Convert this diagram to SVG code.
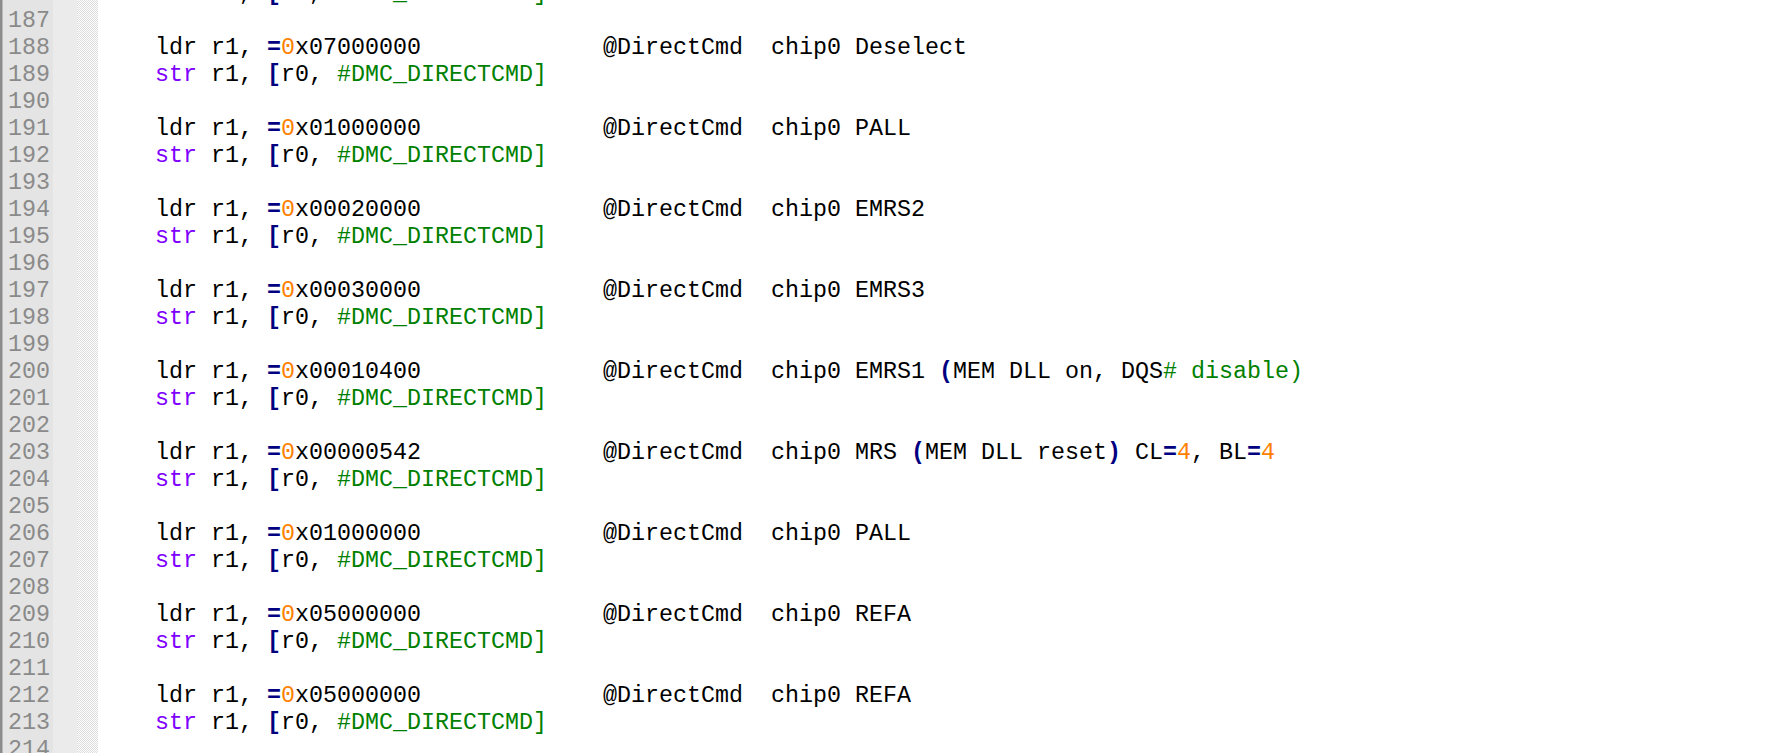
<svg xmlns="http://www.w3.org/2000/svg" width="1771" height="753" viewBox="0 0 1771 753">
<defs>
<pattern id="chk" x="0" y="0" width="2" height="2" patternUnits="userSpaceOnUse">
<rect width="2" height="2" fill="#ffffff"/>
<rect width="1" height="1" fill="#dcdcdc"/>
<rect x="1" y="1" width="1" height="1" fill="#dcdcdc"/>
</pattern>
</defs>
<style>
text{font-family:"Liberation Mono","Courier New",monospace;font-size:23.33px;fill:#000000;white-space:pre}
.ln{fill:#8a8a8a}
.op{fill:#000080;font-weight:bold}
.num{fill:#ff8000}
.ins{fill:#8000ff}
.imm{fill:#008000}
</style>
<rect x="0" y="0" width="1771" height="753" fill="#ffffff"/>
<g id="gutter">
<rect x="0" y="0" width="53" height="753" fill="#e4e4e4"/>
<rect x="53" y="0" width="24" height="753" fill="#ebebeb"/>
<rect x="77" y="0" width="21" height="753" fill="url(#chk)"/>
<rect x="0" y="0" width="2.5" height="753" fill="#8c8c8c"/>
</g>
<g id="line-numbers">
<text class="ln" x="8" y="0">186</text>
<text class="ln" x="8" y="27">187</text>
<text class="ln" x="8" y="54">188</text>
<text class="ln" x="8" y="81">189</text>
<text class="ln" x="8" y="108">190</text>
<text class="ln" x="8" y="135">191</text>
<text class="ln" x="8" y="162">192</text>
<text class="ln" x="8" y="189">193</text>
<text class="ln" x="8" y="216">194</text>
<text class="ln" x="8" y="243">195</text>
<text class="ln" x="8" y="270">196</text>
<text class="ln" x="8" y="297">197</text>
<text class="ln" x="8" y="324">198</text>
<text class="ln" x="8" y="351">199</text>
<text class="ln" x="8" y="378">200</text>
<text class="ln" x="8" y="405">201</text>
<text class="ln" x="8" y="432">202</text>
<text class="ln" x="8" y="459">203</text>
<text class="ln" x="8" y="486">204</text>
<text class="ln" x="8" y="513">205</text>
<text class="ln" x="8" y="540">206</text>
<text class="ln" x="8" y="567">207</text>
<text class="ln" x="8" y="594">208</text>
<text class="ln" x="8" y="621">209</text>
<text class="ln" x="8" y="648">210</text>
<text class="ln" x="8" y="675">211</text>
<text class="ln" x="8" y="702">212</text>
<text class="ln" x="8" y="729">213</text>
<text class="ln" x="8" y="756">214</text>
</g>
<g id="code">
<text x="155" y="0" xml:space="preserve"><tspan class="ins">str</tspan> r1, <tspan class="op">[</tspan>r0, <tspan class="imm">#DMC_DIRECTCMD]</tspan></text>

<text x="155" y="54" xml:space="preserve">ldr r1, <tspan class="op">=</tspan><tspan class="num">0</tspan>x07000000</text>
<text x="603" y="54" xml:space="preserve">@DirectCmd  chip0 Deselect</text>
<text x="155" y="81" xml:space="preserve"><tspan class="ins">str</tspan> r1, <tspan class="op">[</tspan>r0, <tspan class="imm">#DMC_DIRECTCMD]</tspan></text>

<text x="155" y="135" xml:space="preserve">ldr r1, <tspan class="op">=</tspan><tspan class="num">0</tspan>x01000000</text>
<text x="603" y="135" xml:space="preserve">@DirectCmd  chip0 PALL</text>
<text x="155" y="162" xml:space="preserve"><tspan class="ins">str</tspan> r1, <tspan class="op">[</tspan>r0, <tspan class="imm">#DMC_DIRECTCMD]</tspan></text>

<text x="155" y="216" xml:space="preserve">ldr r1, <tspan class="op">=</tspan><tspan class="num">0</tspan>x00020000</text>
<text x="603" y="216" xml:space="preserve">@DirectCmd  chip0 EMRS2</text>
<text x="155" y="243" xml:space="preserve"><tspan class="ins">str</tspan> r1, <tspan class="op">[</tspan>r0, <tspan class="imm">#DMC_DIRECTCMD]</tspan></text>

<text x="155" y="297" xml:space="preserve">ldr r1, <tspan class="op">=</tspan><tspan class="num">0</tspan>x00030000</text>
<text x="603" y="297" xml:space="preserve">@DirectCmd  chip0 EMRS3</text>
<text x="155" y="324" xml:space="preserve"><tspan class="ins">str</tspan> r1, <tspan class="op">[</tspan>r0, <tspan class="imm">#DMC_DIRECTCMD]</tspan></text>

<text x="155" y="378" xml:space="preserve">ldr r1, <tspan class="op">=</tspan><tspan class="num">0</tspan>x00010400</text>
<text x="603" y="378" xml:space="preserve">@DirectCmd  chip0 EMRS1 <tspan class="op">(</tspan>MEM DLL on, DQS<tspan class="imm"># disable)</tspan></text>
<text x="155" y="405" xml:space="preserve"><tspan class="ins">str</tspan> r1, <tspan class="op">[</tspan>r0, <tspan class="imm">#DMC_DIRECTCMD]</tspan></text>

<text x="155" y="459" xml:space="preserve">ldr r1, <tspan class="op">=</tspan><tspan class="num">0</tspan>x00000542</text>
<text x="603" y="459" xml:space="preserve">@DirectCmd  chip0 MRS <tspan class="op">(</tspan>MEM DLL reset<tspan class="op">)</tspan> CL<tspan class="op">=</tspan><tspan class="num">4</tspan>, BL<tspan class="op">=</tspan><tspan class="num">4</tspan></text>
<text x="155" y="486" xml:space="preserve"><tspan class="ins">str</tspan> r1, <tspan class="op">[</tspan>r0, <tspan class="imm">#DMC_DIRECTCMD]</tspan></text>

<text x="155" y="540" xml:space="preserve">ldr r1, <tspan class="op">=</tspan><tspan class="num">0</tspan>x01000000</text>
<text x="603" y="540" xml:space="preserve">@DirectCmd  chip0 PALL</text>
<text x="155" y="567" xml:space="preserve"><tspan class="ins">str</tspan> r1, <tspan class="op">[</tspan>r0, <tspan class="imm">#DMC_DIRECTCMD]</tspan></text>

<text x="155" y="621" xml:space="preserve">ldr r1, <tspan class="op">=</tspan><tspan class="num">0</tspan>x05000000</text>
<text x="603" y="621" xml:space="preserve">@DirectCmd  chip0 REFA</text>
<text x="155" y="648" xml:space="preserve"><tspan class="ins">str</tspan> r1, <tspan class="op">[</tspan>r0, <tspan class="imm">#DMC_DIRECTCMD]</tspan></text>

<text x="155" y="702" xml:space="preserve">ldr r1, <tspan class="op">=</tspan><tspan class="num">0</tspan>x05000000</text>
<text x="603" y="702" xml:space="preserve">@DirectCmd  chip0 REFA</text>
<text x="155" y="729" xml:space="preserve"><tspan class="ins">str</tspan> r1, <tspan class="op">[</tspan>r0, <tspan class="imm">#DMC_DIRECTCMD]</tspan></text>
</g>
</svg>
